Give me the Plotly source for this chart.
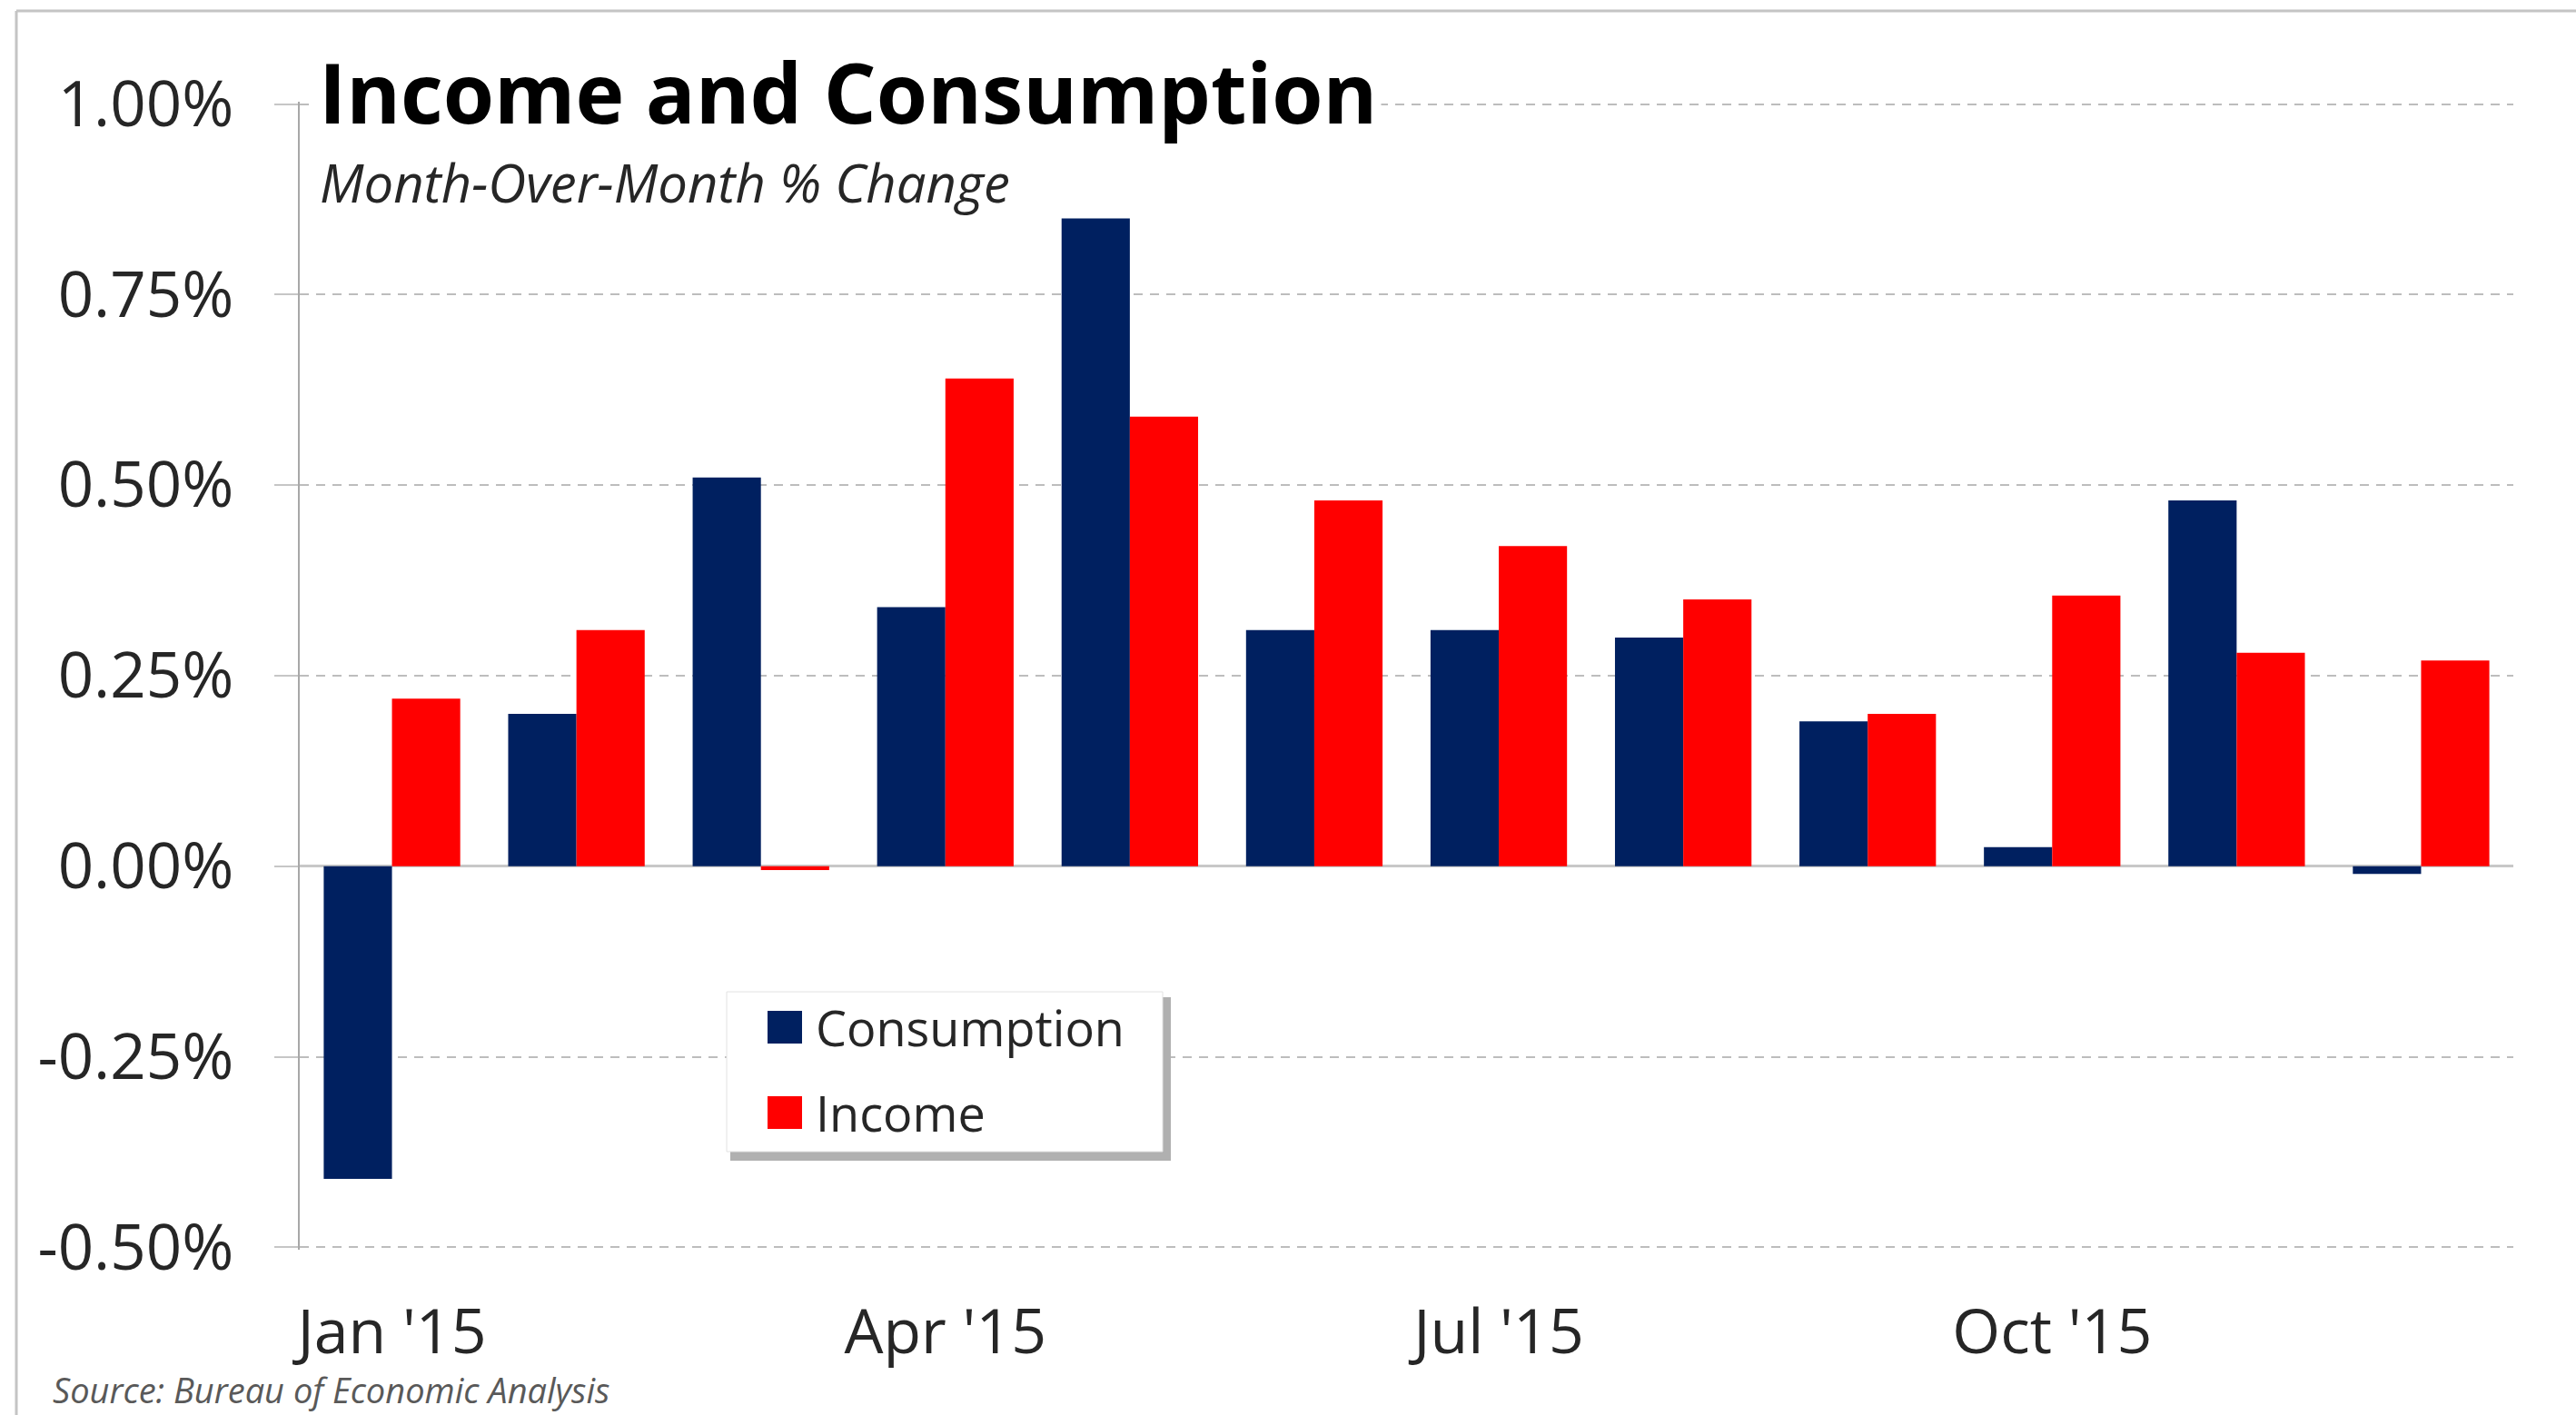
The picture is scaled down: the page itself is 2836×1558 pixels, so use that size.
import plotly.graph_objects as go

# Monthly data, % change month over month
months = ["Jan '15", "Feb '15", "Mar '15", "Apr '15", "May '15", "Jun '15",
          "Jul '15", "Aug '15", "Sep '15", "Oct '15", "Nov '15", "Dec '15"]
consumption = [-0.41, 0.20, 0.51, 0.34, 0.85, 0.31, 0.31, 0.30, 0.19, 0.025, 0.48, -0.01]
income = [0.22, 0.31, -0.005, 0.64, 0.59, 0.48, 0.42, 0.35, 0.20, 0.355, 0.28, 0.27]

x_tick_vals = ["Jan '15", "Apr '15", "Jul '15", "Oct '15"]
y_tick_vals = [-0.50, -0.25, 0.00, 0.25, 0.50, 0.75, 1.00]
y_tick_text = ["-0.50%", "-0.25%", "0.00%", "0.25%", "0.50%", "0.75%", "1.00%"]

NAVY = "#002060"
RED = "#FF0000"
FONT = "Open Sans"
TEXT = "#262626"

W, H = 2836, 1558
L, R, T, B = 330, 69, 112, 182
PW, PH = W - L - R, H - T - B


def px(xp):
    return (xp - L) / PW


def py(yp):
    return (H - B - yp) / PH


fig = go.Figure()
fig.add_trace(go.Bar(x=months, y=consumption, name="Consumption",
                     marker=dict(color=NAVY, line=dict(width=0)), showlegend=False))
fig.add_trace(go.Bar(x=months, y=income, name="Income",
                     marker=dict(color=RED, line=dict(width=0)), showlegend=False))

shapes = []
# outer frame (top and left edges)
shapes.append(dict(type="line", xref="paper", yref="paper",
                   x0=px(18), x1=px(W + 10), y0=py(12), y1=py(12),
                   line=dict(color="#c4c4c4", width=3)))
shapes.append(dict(type="line", xref="paper", yref="paper",
                   x0=px(18), x1=px(18), y0=py(12), y1=py(H + 10),
                   line=dict(color="#c4c4c4", width=3)))

# legend box with drop shadow
lg_x0, lg_x1, lg_y0, lg_y1 = 800, 1280, 1092, 1268
shapes.append(dict(type="rect", xref="paper", yref="paper", layer="above",
                   x0=px(lg_x0 + 4), x1=px(lg_x1 + 9), y0=py(lg_y0 + 6), y1=py(lg_y1 + 10),
                   fillcolor="#b0b0b0", line=dict(width=0)))
shapes.append(dict(type="rect", xref="paper", yref="paper", layer="above",
                   x0=px(lg_x0), x1=px(lg_x1), y0=py(lg_y0), y1=py(lg_y1),
                   fillcolor="white", line=dict(color="#e2e2e2", width=1)))
legend_rows = [("Consumption", NAVY, 1131), ("Income", RED, 1225)]
annotations = []
for label, color, yc in legend_rows:
    shapes.append(dict(type="rect", xref="paper", yref="paper", layer="above",
                       x0=px(845), x1=px(883), y0=py(yc - 18), y1=py(yc + 18),
                       fillcolor=color, line=dict(width=0)))
    annotations.append(dict(text=label, xref="paper", yref="paper",
                            x=px(896), y=py(yc), xanchor="left", yanchor="middle",
                            showarrow=False,
                            font=dict(family=FONT, size=54, color=TEXT)))

# title and subtitle
annotations.append(dict(text="Income and Consumption", xref="paper", yref="paper",
                        x=px(346), y=py(101), xanchor="left", yanchor="middle",
                        showarrow=False, bgcolor="white", borderpad=4,
                        font=dict(family=FONT, size=91, color="#000000", weight="bold")))
annotations.append(dict(text="Month-Over-Month % Change", xref="paper", yref="paper",
                        x=px(350), y=py(200), xanchor="left", yanchor="middle",
                        showarrow=False,
                        font=dict(family=FONT, size=58, color="#262626", style="italic")))
# source note
annotations.append(dict(text="Source: Bureau of Economic Analysis", xref="paper", yref="paper",
                        x=px(56), y=py(1530), xanchor="left", yanchor="middle",
                        showarrow=False,
                        font=dict(family=FONT, size=38, color="#595959", style="italic")))

fig.update_layout(
    width=W, height=H,
    margin=dict(l=L, r=R, t=T, b=B, pad=0),
    paper_bgcolor="white", plot_bgcolor="white",
    barmode="group", bargap=0.26, bargroupgap=0,
    shapes=shapes, annotations=annotations,
    showlegend=False,
    xaxis=dict(type="category", categoryorder="array", categoryarray=months,
               tickmode="array", tickvals=x_tick_vals, ticktext=x_tick_vals,
               showgrid=False, showline=False, zeroline=False, ticks="",
               ticklabelstandoff=45,
               tickfont=dict(family=FONT, size=68, color=TEXT)),
    yaxis=dict(range=[-0.503, 1.003], tickmode="array", tickvals=y_tick_vals, ticktext=y_tick_text,
               showgrid=True, gridcolor="#bdbdbd", gridwidth=2, griddash="10px,8px",
               zeroline=True, zerolinecolor="#c8c8c8", zerolinewidth=3,
               showline=True, linecolor="#a8a8a8", linewidth=2,
               ticks="outside", ticklen=26, tickwidth=2, tickcolor="#c6c6c6",
               ticklabelstandoff=31,
               tickfont=dict(family=FONT, size=69, color=TEXT)),
)

fig.write_html("out.html")
